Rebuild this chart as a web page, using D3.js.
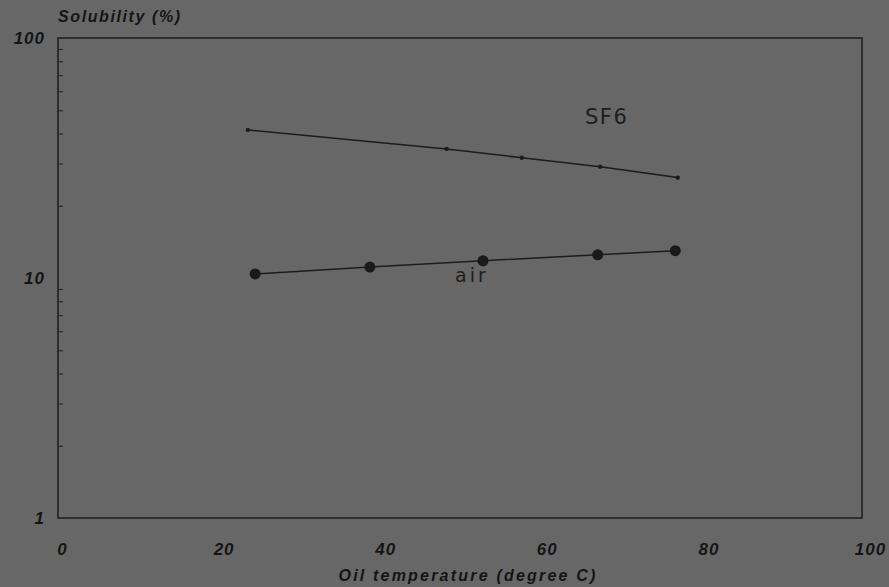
<!DOCTYPE html>
<html>
<head>
<meta charset="utf-8">
<script src="https://cdn.jsdelivr.net/npm/d3@7"></script>
<style>
  html, body { margin: 0; padding: 0; background: #676767; }
  svg { display: block; }
  .lbl { font-family: "Liberation Sans", Arial, sans-serif; font-style: italic; font-weight: bold; fill: #151515; }
  .series { font-family: "DejaVu Sans", Arial, sans-serif; fill: #1e1e1e; }
</style>
</head>
<body>
<div id="chart"></div>
<script>
// values (x in degree C, y in %)
const sf6Temp = [23.5, 48.1, 57.4, 67.1, 76.7];
const sf6Sol = [41.4, 34.5, 31.7, 29.1, 26.2];
const airTemp = [24.4, 38.6, 52.6, 66.8, 76.4];
const airSol = [10.4, 11.1, 11.8, 12.5, 13.0];
const xTicks = [0, 20, 40, 60, 80, 100];
const yTicks = [1, 10, 100];

const W = 889, H = 587;
const svg = d3.select('#chart').append('svg')
  .attr('width', W).attr('height', H);

const x = d3.scaleLinear().domain([0, 100]).range([58, 866]);
const y = d3.scaleLog().domain([1, 100]).range([518, 38]);

const ink = '#1c1c1c';

// frame
svg.append('rect')
  .attr('x', x(0)).attr('y', y(100))
  .attr('width', x(100) - x(0) - 4).attr('height', y(1) - y(100))
  .attr('fill', 'none').attr('stroke', ink).attr('stroke-width', 1.5);

// y axis: minor ticks on the inside
const minor = [];
[1, 10].forEach(d => { for (let k = 2; k <= 9; k++) minor.push(d * k); });
svg.append('g')
  .attr('transform', `translate(${x(0)},0)`)
  .call(d3.axisRight(y).tickValues(minor).tickSize(5).tickFormat(''))
  .call(a => a.select('.domain').remove())
  .call(a => a.selectAll('.tick line').attr('stroke', '#2c2c2c').attr('stroke-width', 1.2));

// y tick labels
svg.append('g')
  .attr('transform', `translate(${x(0) - 10},0)`)
  .call(d3.axisLeft(y).tickValues(yTicks).tickSize(0).tickFormat(d3.format('d')))
  .call(a => a.select('.domain').remove())
  .call(a => a.selectAll('text').attr('class', 'lbl').attr('font-size', 17).attr('letter-spacing', 1));

// x tick labels
svg.append('g')
  .attr('transform', `translate(4,${y(1) + 22})`)
  .call(d3.axisBottom(x).tickValues(xTicks).tickSize(0).tickFormat(d3.format('d')))
  .call(a => a.select('.domain').remove())
  .call(a => a.selectAll('text').attr('class', 'lbl').attr('font-size', 17).attr('letter-spacing', 1));

// axis titles
svg.append('text').attr('class', 'lbl').attr('font-size', 16)
  .attr('letter-spacing', 1.6)
  .attr('x', 58).attr('y', 22).text('Solubility (%)');
svg.append('text').attr('class', 'lbl').attr('font-size', 16)
  .attr('letter-spacing', 2.2)
  .attr('x', 468).attr('y', 581).attr('text-anchor', 'middle')
  .text('Oil temperature (degree C)');

const line = d3.line().x(d => x(d[0])).y(d => y(d[1]));
const sf6 = sf6Temp.map((t, i) => [t, sf6Sol[i]]);
const air = airTemp.map((t, i) => [t, airSol[i]]);

// SF6 series
svg.append('path').datum(sf6)
  .attr('d', line).attr('fill', 'none').attr('stroke', ink).attr('stroke-width', 1.5);
svg.selectAll('.sf6pt').data(sf6).join('circle')
  .attr('class', 'sf6pt')
  .attr('cx', d => x(d[0])).attr('cy', d => y(d[1])).attr('r', 2.2).attr('fill', ink);

// air series
svg.append('path').datum(air)
  .attr('d', line).attr('fill', 'none').attr('stroke', ink).attr('stroke-width', 1.5);
svg.selectAll('.airpt').data(air).join('circle')
  .attr('class', 'airpt')
  .attr('cx', d => x(d[0])).attr('cy', d => y(d[1])).attr('r', 5.5).attr('fill', '#1a1a1a');

// series labels
svg.append('text').attr('class', 'series').attr('font-size', 21)
  .attr('letter-spacing', 1.5)
  .attr('x', 585).attr('y', 124).text('SF6');
svg.append('text').attr('class', 'series').attr('font-size', 19)
  .attr('letter-spacing', 3)
  .attr('x', 455).attr('y', 282).text('air');
</script>
</body>
</html>
